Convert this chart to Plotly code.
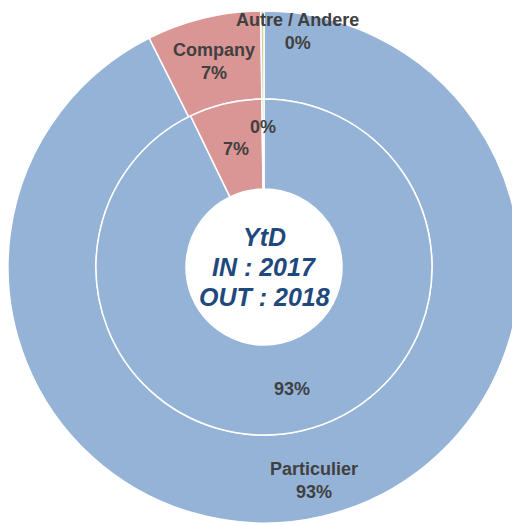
import math
import plotly.graph_objects as go

categories = ["Particulier", "Company", "Autre / Andere"]
outer_values = [92.6, 7.2, 0.2]   # OUT : 2018
inner_values = [92.8, 7.0, 0.2]   # IN : 2017
colors = ["#95B3D7", "#D99694", "#C3D69B"]
center_lines = ["YtD", "IN : 2017", "OUT : 2018"]

W, H = 520, 526
OFF = 8  # page body margin
cx, cy = 264 - OFF, 267 - OFF
R_out, R_in, R_hole = 256, 168, 78

def dom(r):
    return dict(x=[(cx - r) / W, (cx + r) / W],
                y=[(H - cy - r) / H, (H - cy + r) / H])

def px(x, y, **kw):
    return dict(x=x / W, y=(H - y) / H, xref="paper", yref="paper",
                xanchor="center", yanchor="middle", showarrow=False, **kw)

def mid_pos(values, i, r):
    tot = sum(values)
    a = (sum(values[:i]) + values[i] / 2) / tot * 360
    return cx + r * math.sin(math.radians(a)), cy - r * math.cos(math.radians(a))

def pct(values, i):
    return f"{round(values[i] / sum(values) * 100):d}%"

label_font = dict(family="Liberation Sans, Arial, sans-serif", size=18, color="#404040", weight="bold")

fig = go.Figure()
for vals, r_o, r_i in [(outer_values, R_out, R_in), (inner_values, R_in, R_hole)]:
    fig.add_trace(go.Pie(
        labels=categories, values=vals, sort=False, direction="clockwise", rotation=0,
        hole=r_i / r_o, domain=dom(r_o),
        marker=dict(colors=colors, line=dict(color="white", width=1.5)),
        textinfo="none", showlegend=False, hoverinfo="label+percent",
    ))

# outer ring labels
for i, r in [(0, 219), (1, 211)]:
    x, y = mid_pos(outer_values, i, r)
    fig.add_annotation(**px(x, y, text=f"{categories[i]}<br>{pct(outer_values, i)}", font=label_font))
fig.add_annotation(**px(cx + 33, 32 - OFF,
                        text=f"{categories[2]}<br>{pct(outer_values, 2)}", font=label_font))

# inner ring labels
for i, r in [(0, 125), (1, 121)]:
    x, y = mid_pos(inner_values, i, r)
    fig.add_annotation(**px(x, y, text=pct(inner_values, i), font=label_font))
fig.add_annotation(**px(cx - 1, 127 - OFF, text=pct(inner_values, 2), font=label_font))

center_font = dict(family="Liberation Sans, Arial, sans-serif", size=25, color="#1F497D",
                   weight="bold", style="italic")
for i, t in enumerate(center_lines):
    fig.add_annotation(**px(cx, cy + (i - 1) * 30, text=t, font=center_font))

fig.update_layout(width=W, height=H, margin=dict(l=0, r=0, t=0, b=0),
                  paper_bgcolor="white", plot_bgcolor="white")
fig.write_html("out.html")
